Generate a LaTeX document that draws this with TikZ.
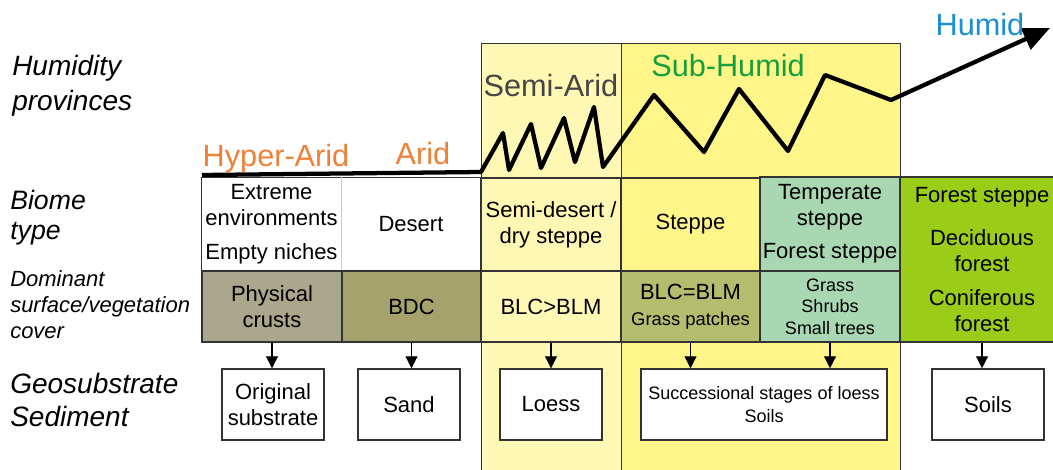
\documentclass[tikz,border=0pt]{standalone}
\usepackage{fontspec}
\setmainfont{Liberation Sans}
\usetikzlibrary{arrows.meta,positioning}

\definecolor{semiarid}{HTML}{FFF8B4}
\definecolor{subhumid}{HTML}{FFF588}
\definecolor{crust}{HTML}{AAA78D}
\definecolor{bdc}{HTML}{A5A26B}
\definecolor{blcblm}{HTML}{B4BC6E}
\definecolor{temperate}{HTML}{A8D7B2}
\definecolor{forest}{HTML}{9BCC17}
\definecolor{aridorange}{HTML}{EF8037}
\definecolor{semigray}{HTML}{454545}
\definecolor{subgreen}{HTML}{13A03C}
\definecolor{humidblue}{HTML}{1A8FD6}
\definecolor{rim}{HTML}{333333}
\definecolor{pinkline}{HTML}{F2B6C6}

\begin{document}
\begin{tikzpicture}[
                x=0.75pt, y=-0.75pt,
                cell/.style={
                        draw=rim,
                        line width=1.1pt,
                        inner sep=0pt,
                        minimum width=105pt,
                        minimum height=53.25pt,
                        align=center,
                        font=\fontsize{16.5}{19.5}\selectfont
                    },
                biome/.style={cell, minimum height=69.75pt},
                smallcell/.style={cell, font=\fontsize{13.5}{16}\selectfont},
                soil/.style={cell, fill=white, minimum width=76.5pt},
                rowlabel/.style={anchor=west, align=left, inner sep=0pt},
                zone/.style={anchor=base, inner sep=0pt, font=\fontsize{23}{27}\selectfont},
                down/.style={-{Triangle[length=9pt,width=9pt]}, line width=0.8pt}
            ]

            \useasboundingbox (0,0) rectangle (1053,470);
            \clip (0,0) rectangle (1053,470);
            \fill[white] (0,0) rectangle (1053,470);

            % Columnas de humedad
            \draw[rim, fill=semiarid] (481,43) rectangle (621,480);
            \draw[rim, fill=subhumid] (621,43) rectangle (900,480);

            % Etiquetas de filas
            \node[rowlabel, font=\itshape\fontsize{21}{26}\selectfont] (lblhum) at (12,86) {Humidity\\provinces};
            \node[rowlabel, font=\itshape\fontsize{20}{22.5}\selectfont] (lblbiome) at (10,218) {Biome\\type};
            \node[rowlabel, font=\itshape\fontsize{16.5}{19.5}\selectfont] (lblcover) at (10,305) {Dominant\\surface/vegetation\\cover};
            \node[rowlabel, font=\itshape\fontsize{21}{24.75}\selectfont] (lblgeo) at (10,400) {Geosubstrate\\Sediment};

            % Tipo de bioma
            \node[biome, draw=none, fill=white, minimum width=104.25pt] (extreme) at (271.5,224.5) {Extreme\\environments\\[6pt]Empty niches};
            \node[biome, draw=none, fill=white] (desert) at (411,224.5) {Desert};
            \draw[rim, line width=1.1pt] (extreme.south west) -- (extreme.north west) -- (desert.north east);
            \draw[pinkline, line width=0.8pt] (extreme.north east) -- (extreme.south east);
            \node[biome] (semidesert) at (551,224.5) {Semi-desert /\\dry steppe};
            \node[biome, fill=subhumid, minimum width=104.25pt] (steppe) at (690.5,224.5) {Steppe};
            \node[biome, fill=temperate, minimum height=70.5pt] (temperate) at (830,224) {Temperate\\steppe\\[5pt]Forest steppe};
            \node[cell, fill=forest, minimum width=123pt, minimum height=123.75pt] (forestcell) at (982,259.5) {Forest steppe\\[13pt]Deciduous\\forest\\[6pt]Coniferous\\forest};

            % Cobertura dominante
            \node[cell, fill=crust] (crusts) at (272,306.5) {Physical\\crusts};
            \node[cell, fill=bdc, minimum width=104.25pt] (bdc) at (411.5,306.5) {BDC};
            \node[cell] (blcgt) at (551,306.5) {BLC>BLM};
            \node[cell, fill=blcblm, minimum width=104.25pt] (blceq) at (690.5,306.5) {BLC=BLM\\{\fontsize{13.8}{19}\selectfont Grass patches}};
            \node[smallcell, fill=temperate] (grass) at (830,306.5) {Grass\\Shrubs\\Small trees};

            % Geosustrato
            \node[soil] (original) at (273,404.5) {Original\\substrate};
            \node[soil] (sand) at (409,404.5) {Sand};
            \node[soil] (loess) at (551,404.5) {Loess};
            \node[soil, minimum width=184.5pt, font=\fontsize{13.5}{17}\selectfont] (succession) at (764,404.5) {Successional stages of loess\\Soils};
            \node[soil, minimum width=84pt] (soils) at (988,404.5) {Soils};

            \draw[down] (crusts.south) -- (crusts.south |- original.north);
            \draw[down] (bdc.south) -- (bdc.south |- sand.north);
            \draw[down] (blcgt.south) -- (blcgt.south |- loess.north);
            \draw[down] (blceq.south) -- (blceq.south |- succession.north);
            \draw[down] (grass.south) -- (grass.south |- succession.north);
            \draw[down] (forestcell.south) -- (forestcell.south |- soils.north);

            % Gradiente de humedad
            \draw[line width=3.2pt, line join=round, -{Triangle[length=20pt,width=17pt]}]
                (202,175) -- (481,172) -- (503,133) -- (509,170) -- (531,124) -- (541,168)
                -- (564,118) -- (575,162) -- (594,107) -- (603,167) -- (654,95) -- (704,152)
                -- (739,89) -- (788,151) -- (825,75) -- (891,100) -- (1050,28);

            \node[zone, text=aridorange] (hyperarid) at (276,167) {Hyper-Arid};
            \node[zone, text=aridorange] (arid) at (423,165) {Arid};
            \node[zone, text=semigray] (semiaridlbl) at (551,97) {Semi-Arid};
            \node[zone, text=subgreen] (subhumidlbl) at (728,77) {Sub-Humid};
            \node[zone, text=humidblue] (humidlbl) at (980,36) {Humid};

        \end{tikzpicture}
\end{document}
